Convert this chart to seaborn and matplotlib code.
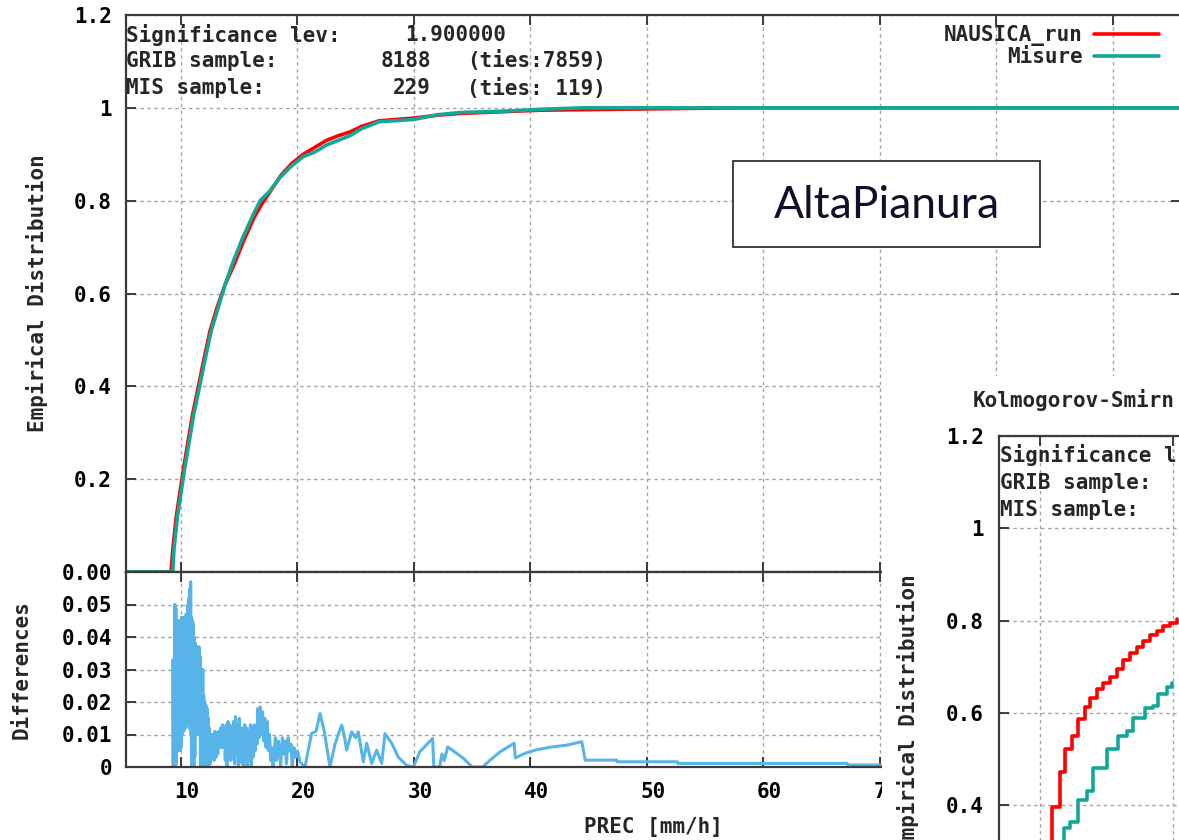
import matplotlib
matplotlib.use('Agg')
import matplotlib.pyplot as plt
import matplotlib.transforms as mtransforms
from matplotlib.patches import Rectangle
import seaborn as sns

W, H = 1179, 840

# ---- values ----
x_range = [5.28, 95.84]
prec_ticks = [10, 20, 30, 40, 50, 60, 70, 80, 90]
prec_labels = ['10', '20', '30', '40', '50', '60', '70', '80', '90']

ecdf_ticks = [0, 0.2, 0.4, 0.6, 0.8, 1.0, 1.2]
ecdf_labels = ['0.00', '0.2', '0.4', '0.6', '0.8', '1', '1.2']
diff_ticks = [0, 0.01, 0.02, 0.03, 0.04, 0.05, 0.06]
diff_labels = ['0', '0.01', '0.02', '0.03', '0.04', '0.05', '']

# empirical distribution, model run (NAUSICA_run)
nausica_x = [5.28, 9.15, 9.30, 9.60, 9.90, 10.2, 10.6, 11.0, 11.5, 11.9, 12.5, 13.1,
             13.8, 14.6, 15.4, 16.3, 17.0, 17.8, 18.6, 19.5, 20.5, 21.5, 22.5, 23.5,
             24.5, 25.5, 27.0, 30.0, 32.0, 34.0, 38.0, 41.0, 44.5, 57.7, 95.84]
nausica_y = [0, 0, 0.05, 0.12, 0.17, 0.22, 0.28, 0.34, 0.40, 0.45, 0.52, 0.57,
             0.62, 0.665, 0.715, 0.765, 0.795, 0.825, 0.855, 0.88, 0.90, 0.915, 0.93, 0.94,
             0.948, 0.96, 0.972, 0.978, 0.984, 0.988, 0.992, 0.995, 0.996, 1.0, 1.0]

# empirical distribution, measurements (Misure)
misure_x = [5.28, 9.30, 9.40, 9.70, 10.0, 10.3, 10.7, 11.1, 11.6, 12.0, 12.6, 13.2,
            13.8, 14.5, 15.3, 16.2, 16.8, 17.6, 18.5, 19.5, 20.5, 21.5, 22.5, 23.5,
            24.5, 25.5, 27.0, 30.0, 32.0, 34.0, 38.0, 41.0, 44.5, 95.84]
misure_y = [0, 0, 0.05, 0.12, 0.17, 0.22, 0.28, 0.34, 0.40, 0.45, 0.52, 0.57,
            0.62, 0.67, 0.72, 0.77, 0.80, 0.82, 0.85, 0.875, 0.895, 0.905, 0.92, 0.93,
            0.94, 0.955, 0.970, 0.975, 0.985, 0.99, 0.993, 0.997, 1.0, 1.0]

# absolute differences between the two distributions
diff_x = [9.30, 9.32, 9.36, 9.40, 9.44, 9.47, 9.52, 9.56, 9.60, 9.64, 9.68, 9.72,
          9.76, 9.80, 9.84, 9.88, 9.92, 9.96, 10.00, 10.04, 10.08, 10.12, 10.16, 10.20,
          10.24, 10.28, 10.32, 10.36, 10.40, 10.44, 10.48, 10.52, 10.56, 10.60, 10.64, 10.68,
          10.72, 10.76, 10.80, 10.83, 10.87, 10.91, 10.95, 10.99, 11.03, 11.07, 11.11, 11.15,
          11.19, 11.23, 11.27, 11.31, 11.35, 11.39, 11.43, 11.47, 11.51, 11.55, 11.59, 11.63,
          11.67, 11.71, 11.75, 11.79, 11.83, 11.87, 11.91, 11.95, 11.99, 12.04, 12.09, 12.14,
          12.19, 12.24, 12.29, 12.34, 12.39, 12.45, 12.52, 12.60, 12.68, 12.76, 12.84, 12.92,
          13.00, 13.08, 13.16, 13.24, 13.32, 13.40, 13.48, 13.56, 13.64, 13.72, 13.80, 13.88,
          13.96, 14.04, 14.12, 14.20, 14.28, 14.36, 14.44, 14.52, 14.60, 14.68, 14.76, 14.84,
          14.92, 15.00, 15.08, 15.16, 15.24, 15.32, 15.40, 15.48, 15.56, 15.64, 15.72, 15.80,
          15.88, 15.96, 16.04, 16.12, 16.20, 16.28, 16.36, 16.44, 16.52, 16.60, 16.70, 16.80,
          16.90, 17.00, 17.10, 17.20, 17.30, 17.40, 17.50, 17.60, 17.70, 17.80, 17.90, 18.00,
          18.10, 18.20, 18.35, 18.45, 18.55, 18.70, 18.80, 18.95, 19.05, 19.20, 19.30, 19.45,
          19.55, 19.70, 19.85, 20.00, 20.21, 20.64, 21.21, 21.60, 21.93, 22.30, 22.79, 23.22,
          23.50, 23.79, 24.00, 24.22, 24.65, 25.00, 25.22, 25.65, 25.94, 26.37, 26.80, 27.23,
          27.51, 28.09, 28.66, 29.37, 29.95, 30.50, 31.60, 31.70, 32.20, 32.40, 32.60, 32.90,
          34.20, 35.00, 35.90, 36.50, 37.40, 38.60, 38.70, 39.60, 40.50, 41.90, 43.10, 44.40,
          44.70, 47.40, 47.45, 52.60, 52.65, 67.20, 67.25, 95.84]
diff_y = [0.000, 0.033, 0.000, 0.033, 0.002, 0.050, 0.000, 0.049, 0.001, 0.045, 0.006, 0.044,
          0.005, 0.045, 0.006, 0.044, 0.005, 0.045, 0.006, 0.046, 0.010, 0.045, 0.012, 0.046,
          0.011, 0.046, 0.012, 0.045, 0.012, 0.047, 0.013, 0.046, 0.018, 0.050, 0.016, 0.052,
          0.012, 0.055, 0.018, 0.057, 0.010, 0.046, 0.000, 0.045, 0.001, 0.044, 0.000, 0.040,
          0.003, 0.038, 0.010, 0.037, 0.011, 0.037, 0.010, 0.036, 0.012, 0.037, 0.010, 0.034,
          0.000, 0.030, 0.001, 0.029, 0.000, 0.030, 0.002, 0.022, 0.000, 0.020, 0.001, 0.019,
          0.000, 0.018, 0.001, 0.015, 0.000, 0.012, 0.001, 0.010, 0.003, 0.010, 0.002, 0.011,
          0.003, 0.010, 0.004, 0.011, 0.006, 0.012, 0.006, 0.013, 0.006, 0.012, 0.002, 0.013,
          0.000, 0.014, 0.004, 0.013, 0.002, 0.012, 0.003, 0.014, 0.001, 0.0155, 0.004, 0.013,
          0.000, 0.015, 0.003, 0.012, 0.001, 0.012, 0.000, 0.013, 0.002, 0.012, 0.000, 0.011,
          0.002, 0.013, 0.000, 0.012, 0.003, 0.013, 0.005, 0.012, 0.007, 0.018, 0.009, 0.0185,
          0.010, 0.017, 0.008, 0.015, 0.006, 0.014, 0.005, 0.010, 0.002, 0.006, 0.000, 0.004,
          0.009, 0.002, 0.008, 0.006, 0.000, 0.009, 0.004, 0.008, 0.001, 0.009, 0.005, 0.007,
          0.000, 0.006, 0.003, 0.005, 0.0016, 0.000, 0.0103, 0.011, 0.0165, 0.011, 0.000, 0.007,
          0.010, 0.0129, 0.010, 0.0052, 0.0108, 0.009, 0.0108, 0.0016, 0.0073, 0.0011, 0.0052, 0.0011,
          0.0103, 0.0073, 0.003, 0.0005, 0.000, 0.0047, 0.0088, 0.000, 0.000, 0.004, 0.002, 0.0062,
          0.0028, 0.000, 0.000, 0.002, 0.0047, 0.0073, 0.0028, 0.0043, 0.0053, 0.0062, 0.0067, 0.0078,
          0.0021, 0.0021, 0.0016, 0.0016, 0.0011, 0.0011, 0.0006, 0.0006]

header_labels = ['Significance lev:', 'GRIB sample:', 'MIS sample:']
header_values = ['1.900000', '8188', '229']
header_ties = ['', '(ties:7859)', '(ties: 119)']

# second chart pasted over the bottom right corner (only its visible part)
ks_title = 'Kolmogorov-Smirn'
ks_header = ['Significance l', 'GRIB sample:', 'MIS sample:']
ks_x_range = [6.92, 29.55]
ks_ticks_x = [10, 20]
ks_labels = ['', '', '0.4', '0.6', '0.8', '1', '1.2']
ks_run_x = [10.88, 10.88, 11.50, 11.88, 12.38, 12.86, 13.38, 13.76, 14.26, 14.74, 15.26,
            15.77, 16.24, 16.77, 17.27, 17.74, 18.27, 18.77, 19.25, 19.77, 20.28]
ks_run_y = [0.30, 0.397, 0.472, 0.523, 0.551, 0.588, 0.612, 0.633, 0.653, 0.664, 0.677,
            0.696, 0.714, 0.729, 0.742, 0.757, 0.768, 0.778, 0.789, 0.796, 0.804]
ks_mis_x = [11.80, 11.80, 12.26, 12.86, 13.51, 13.98, 15.02, 15.86, 16.52, 16.99, 17.89,
            18.50, 18.87, 19.53, 19.90]
ks_mis_y = [0.30, 0.350, 0.364, 0.411, 0.432, 0.480, 0.523, 0.551, 0.562, 0.590, 0.610,
            0.616, 0.642, 0.656, 0.664]

RED = '#ff0000'
TEAL = '#12a797'
BLUE = '#56b4e9'
GRID = '#a4a4a4'
SPINE = '#3a3a3a'
FS = 15

sns.set_style('ticks')
plt.rcParams['font.family'] = ['DejaVu Sans Mono']
plt.rcParams['font.weight'] = 'bold'
plt.rcParams['axes.labelweight'] = 'bold'

fig = plt.figure(figsize=(W / 100, H / 100), dpi=100)


def box(x0, y0, x1, y1):
    # pixel box (top-left origin) -> figure fraction rect
    return [x0 / W, 1 - y1 / H, (x1 - x0) / W, (y1 - y0) / H]


def gnuplot_look(a):
    for s in a.spines.values():
        s.set_color(SPINE)
        s.set_linewidth(1.6)
    a.tick_params(direction='in', length=7, width=1.4, top=True, right=True,
                  colors=SPINE, labelcolor='black', labelsize=FS, pad=10)
    a.grid(True, color=GRID, linestyle=(0, (2.5, 2.5)), linewidth=1)
    a.set_axisbelow(True)


ax = fig.add_axes(box(126, 15, 1181, 572))
axd = fig.add_axes(box(126, 572, 1181, 767))

# upper panel: empirical distributions
sns.lineplot(x=nausica_x, y=nausica_y, ax=ax, color=RED, lw=2.6, label='NAUSICA_run',
             estimator=None, sort=False)
sns.lineplot(x=misure_x, y=misure_y, ax=ax, color=TEAL, lw=2.6, label='Misure',
             estimator=None, sort=False)
gnuplot_look(ax)
ax.set_xlim(*x_range)
ax.set_ylim(0, 1.2)
ax.set_xticks(prec_ticks)
ax.tick_params(labelbottom=False)
ax.set_yticks(ecdf_ticks)
ax.set_yticklabels(ecdf_labels)
ax.set_ylabel('Empirical Distribution', fontsize=FS, va='center')
ax.yaxis.set_label_coords((37 - 126) / 1055, 0.5)
ax.legend(loc='upper right', bbox_to_anchor=(1159 / W, 1 - 25 / H),
          bbox_transform=fig.transFigure, frameon=False, markerfirst=False,
          handlelength=3.1, handletextpad=0.55, labelspacing=0.05,
          borderpad=0, borderaxespad=0, fontsize=FS)

# lower panel: differences
sns.lineplot(x=diff_x, y=diff_y, ax=axd, color=BLUE, lw=2.2, estimator=None, sort=False)
gnuplot_look(axd)
axd.set_xlim(*x_range)
axd.set_ylim(0, 0.06)
axd.set_xticks(prec_ticks)
axd.set_xticklabels(prec_labels)
axd.set_yticks(diff_ticks)
axd.set_yticklabels(diff_labels)
axd.tick_params(axis='x', pad=11)
shift = mtransforms.ScaledTranslation(6 / 100, 0, fig.dpi_scale_trans)
for lbl in axd.get_xticklabels():
    lbl.set_transform(lbl.get_transform() + shift)
axd.set_ylabel('Differences', fontsize=FS, va='center')
axd.yaxis.set_label_coords((22 - 126) / 1055, 0.5)
axd.set_xlabel('PREC [mm/h]', fontsize=FS, va='center')
axd.xaxis.set_label_coords(0.5, (767 - 827) / 195)

# statistics header
rows_y = [35, 61, 88]
for lab, val, tie, yy in zip(header_labels, header_values, header_ties, rows_y):
    fig.text(126 / W, 1 - yy / H, lab, ha='left', va='center', fontsize=FS)
    right = 506 if tie == '' else 431
    fig.text(right / W, 1 - yy / H, val, ha='right', va='center', fontsize=FS)
    if tie:
        fig.text(467 / W, 1 - yy / H, tie, ha='left', va='center', fontsize=FS)

# station name box
fig.patches.append(Rectangle((733 / W, 1 - 247 / H), (1040 - 733) / W, (247 - 161) / H,
                             transform=fig.transFigure, facecolor='white',
                             edgecolor='#303030', lw=1.3, zorder=2))
fig.text(887 / W, 1 - 205 / H, 'AltaPianura', ha='center', va='center', fontsize=32,
         family=['Lato', 'DejaVu Sans'], weight='normal', color='#10102a', zorder=3)

# pasted second chart (white sheet on top)
cover = fig.add_axes(box(882, 376, W, H))
cover.set_facecolor('white')
cover.set_xticks([])
cover.set_yticks([])
for s in cover.spines.values():
    s.set_visible(False)
cover.set_zorder(5)

ks = fig.add_axes(box(999, 436, 1300, 990))
ks.set_zorder(6)
ks.set_facecolor('white')
sns.lineplot(x=ks_run_x, y=ks_run_y, ax=ks, color=RED, lw=2.6, drawstyle='steps-post',
             estimator=None, sort=False)
sns.lineplot(x=ks_mis_x, y=ks_mis_y, ax=ks, color=TEAL, lw=2.6, drawstyle='steps-post',
             estimator=None, sort=False)
gnuplot_look(ks)
ks.set_xlim(*ks_x_range)
ks.set_ylim(0, 1.2)
ks.set_xticks(ks_ticks_x)
ks.tick_params(labelbottom=False, pad=11)
ks.set_yticks(ecdf_ticks)
ks.set_yticklabels(ks_labels)
ks.set_ylabel('Empirical Distribution', fontsize=FS, va='center')
ks.yaxis.set_label_coords((908 - 999) / 301, 0.5)
ks.text((973 - 999) / 301, (990 - 400) / 554, ks_title, transform=ks.transAxes,
        ha='left', va='center', fontsize=FS, clip_on=False)
for lab, yy in zip(ks_header, [455, 483, 510]):
    ks.text(1 / 301, (990 - yy) / 554, lab, transform=ks.transAxes,
            ha='left', va='center', fontsize=FS, clip_on=False)

fig.savefig('out.png', dpi=100)
